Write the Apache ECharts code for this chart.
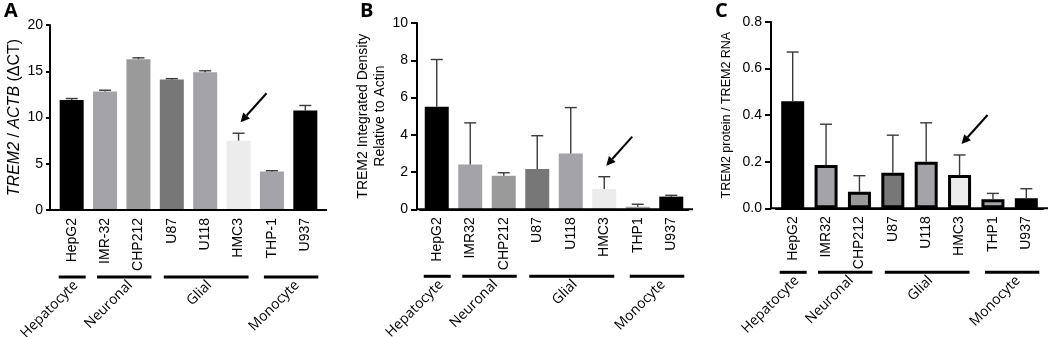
<!DOCTYPE html>
<html><head><meta charset="utf-8">
<script src="https://cdn.jsdelivr.net/npm/echarts@6/dist/echarts.min.js"></script>
<style>html,body{margin:0;padding:0;background:#fff}#c{width:1050px;height:337px}</style>
</head><body><div id="c"></div>
<script>
// ---------- data ----------
const catsA  = ['HepG2','IMR-32','CHP212','U87','U118','HMC3','THP-1','U937'];
const catsBC = ['HepG2','IMR32','CHP212','U87','U118','HMC3','THP1','U937'];
const meanA = [11.9, 12.8, 16.3, 14.1, 14.9, 7.5, 4.15, 10.75];
const semA  = [0.15, 0.15, 0.15, 0.1, 0.15, 0.8, 0.1, 0.55];
const meanB = [5.5, 2.41, 1.8, 2.16, 3.0, 1.09, 0.14, 0.68];
const semB  = [2.54, 2.23, 0.16, 1.79, 2.46, 0.66, 0.13, 0.07];
const meanC = [0.46, 0.186, 0.071, 0.153, 0.2, 0.143, 0.039, 0.043];
const semC  = [0.211, 0.175, 0.069, 0.161, 0.167, 0.086, 0.025, 0.041];
const barColors = ['#000000','#a3a3a8','#9a9a9a','#777777','#a3a3a8','#ececec','#a3a3a8','#000000'];
const groupNames = ['Hepatocyte','Neuronal','Glial','Monocyte'];
const groupFirst = [0, 1, 3, 6];
const groupLast  = [0, 2, 5, 7];
const yAxisA = {min: 0, max: 20, interval: 5};
const yAxisB = {min: 0, max: 10, interval: 2};
const yAxisC = {min: 0, max: 0.8, interval: 0.2};
const titleA = '{i|TREM2} / {i|ACTB} (ΔCT)';
const titleB = 'TREM2 Integrated Density\nRelative to Actin';
const titleC = 'TREM2 protein / TREM2 RNA';
const panelLetters = ['A','B','C'];
const arrowTarget = 5; // HMC3

// ---------- chart ----------
const FF = '"Liberation Sans", Arial, sans-serif';
const OS = '"Open Sans", Arial, sans-serif';
const chart = echarts.init(document.getElementById('c'), null, {renderer: 'canvas'});

const grids = [
  {left: 55, top: 25, width: 267, height: 185, outerBoundsMode: 'none'},
  {left: 420, top: 23, width: 268, height: 186.3, outerBoundsMode: 'none'},
  {left: 776, top: 22, width: 267, height: 186.3, outerBoundsMode: 'none'}
];
const yOffsets = [5, 3, 5];
const tickLen = [4, 6, 6];
const groupLineDrop = [67, 67, 64];
const padL = [13, 8, 8, 8];
const padR = [14, 13, 10, 13];
const SUB = 8; // sub-steps per category for the group-label axis

function xAx(i, cats) {
  return {
    type: 'category', gridIndex: i, data: cats,
    axisLine: {lineStyle: {color: '#000', width: 2}},
    axisTick: {alignWithLabel: true, length: 6, lineStyle: {color: '#000', width: 2}},
    axisLabel: {rotate: 90, interval: 0, margin: 8, color: '#000', fontSize: 14, fontFamily: FF},
    splitLine: {show: false}
  };
}
// fine-grained helper axis whose labels carry the group names (rotated 45°)
function groupAx(i, cats) {
  const n = cats.length * SUB + 1;
  const labels = new Array(n).fill('');
  for (let k = 0; k < groupNames.length; k++) {
    const c0 = groupFirst[k] - padL[k] / 33.4, c1 = groupLast[k] + padR[k] / 33.4;
    const center = (c0 + c1) / 2 + 0.12;
    labels[Math.round((center + 0.5) * SUB)] = groupNames[k];
  }
  return {
    type: 'category', gridIndex: i, boundaryGap: false, data: labels, position: 'bottom',
    offset: groupLineDrop[i] + 6,
    axisLine: {show: false}, axisTick: {show: false}, splitLine: {show: false},
    axisLabel: {rotate: 45, interval: 0, margin: 0, color: '#000', fontSize: 14, fontFamily: OS}
  };
}
function yAx(i, r, name, gap, nts) {
  return Object.assign({
    type: 'value', gridIndex: i, offset: yOffsets[i],
    name: name, nameLocation: 'middle', nameGap: gap, nameRotate: 90,
    nameTextStyle: nts,
    axisLine: {show: true, lineStyle: {color: '#000', width: 2}},
    axisTick: {show: true, length: tickLen[i], lineStyle: {color: '#000', width: 2}},
    axisLabel: {color: '#000', fontSize: 14, fontFamily: FF, margin: tickLen[i] + 3,
      formatter: i === 2 ? (v => v.toFixed(1)) : null},
    splitLine: {show: false}
  }, r);
}

function barSeries(i, mean, bordered) {
  return {
    type: 'bar', xAxisIndex: i, yAxisIndex: i, barWidth: bordered ? 23 : 24,
    data: mean.map((v, k) => ({value: v, itemStyle: {color: barColors[k],
      borderColor: bordered ? '#000' : barColors[k], borderWidth: bordered ? 3 : 0}})),
    z: 2, animation: false
  };
}
function errSeries(i, mean, sem) {
  return {
    type: 'custom', xAxisIndex: i, yAxisIndex: i, z: 3, animation: false,
    data: mean.map((v, k) => [k, v, v + sem[k]]),
    encode: {x: 0, y: [1, 2]},
    renderItem: function (params, api) {
      const a = api.coord([api.value(0), api.value(1)]);
      const b = api.coord([api.value(0), api.value(2)]);
      const st = {stroke: '#3a3a3a', lineWidth: 1.4};
      return {type: 'group', children: [
        {type: 'line', shape: {x1: a[0], y1: a[1], x2: b[0], y2: b[1]}, style: st},
        {type: 'line', shape: {x1: b[0] - 6, y1: b[1], x2: b[0] + 6, y2: b[1]}, style: st}
      ]};
    }
  };
}

const option = {
  backgroundColor: '#fff',
  animation: false,
  grid: grids,
  xAxis: [xAx(0, catsA), xAx(1, catsBC), xAx(2, catsBC),
          groupAx(0, catsA), groupAx(1, catsBC), groupAx(2, catsBC)],
  yAxis: [
    yAx(0, yAxisA, titleA, 27, {color: '#000', fontSize: 16, fontFamily: FF,
      rich: {i: {fontStyle: 'italic', fontSize: 16, fontFamily: FF, color: '#000'}}}),
    yAx(1, yAxisB, titleB, 26, {color: '#000', fontSize: 14, fontFamily: FF, lineHeight: 17}),
    yAx(2, yAxisC, titleC, 38, {color: '#000', fontSize: 12.5, fontFamily: FF})
  ],
  series: [
    barSeries(0, meanA, false), errSeries(0, meanA, semA),
    barSeries(1, meanB, false), errSeries(1, meanB, semB),
    barSeries(2, meanC, true),  errSeries(2, meanC, semC)
  ]
};
chart.setOption(option);

// ---------- annotations (positioned through the chart's own scales) ----------
const means = [meanA, meanB, meanC];
const sems = [semA, semB, semC];
const letterX = [4, 360, 715];
const graphics = [];

for (let g = 0; g < 3; g++) {
  const y0 = chart.convertToPixel({gridIndex: g}, [0, 0])[1];
  const gr = grids[g];
  graphics.push({type: 'line', z: 50, shape: {x1: gr.left - yOffsets[g] - 1, y1: y0, x2: gr.left + gr.width + 5, y2: y0},
    style: {stroke: '#000', lineWidth: 2}});
  graphics.push({type: 'text', x: letterX[g], y: 1, z: 50,
    style: {text: panelLetters[g], fontSize: 20, fontWeight: 'bold', fontFamily: OS, fill: '#000'}});
  const ly = y0 + groupLineDrop[g];
  for (let k = 0; k < groupNames.length; k++) {
    const xa = chart.convertToPixel({gridIndex: g}, [groupFirst[k], 0])[0] - padL[k];
    const xb = chart.convertToPixel({gridIndex: g}, [groupLast[k], 0])[0] + padR[k];
    graphics.push({type: 'line', z: 50, shape: {x1: xa, y1: ly, x2: xb, y2: ly}, style: {stroke: '#000', lineWidth: 3}});
  }
  const t = arrowTarget;
  const cap = chart.convertToPixel({gridIndex: g}, [t, means[g][t] + sems[g][t]]);
  const hx = cap[0] + 2, hy = cap[1] - 11;
  const tx = cap[0] + 28, ty = cap[1] - 40;
  const dx = hx - tx, dy = hy - ty, L = Math.hypot(dx, dy);
  const ux = dx / L, uy = dy / L, nx = -uy, ny = ux;
  const bx = hx - ux * 9, by = hy - uy * 9;
  graphics.push({type: 'line', z: 50, shape: {x1: tx, y1: ty, x2: bx, y2: by}, style: {stroke: '#000', lineWidth: 2}});
  graphics.push({type: 'polygon', z: 50, shape: {points: [[hx, hy], [bx + nx * 4.5, by + ny * 4.5], [bx - nx * 4.5, by - ny * 4.5]]},
    style: {fill: '#000'}});
}
chart.setOption({graphic: graphics});
</script>
</body></html>
